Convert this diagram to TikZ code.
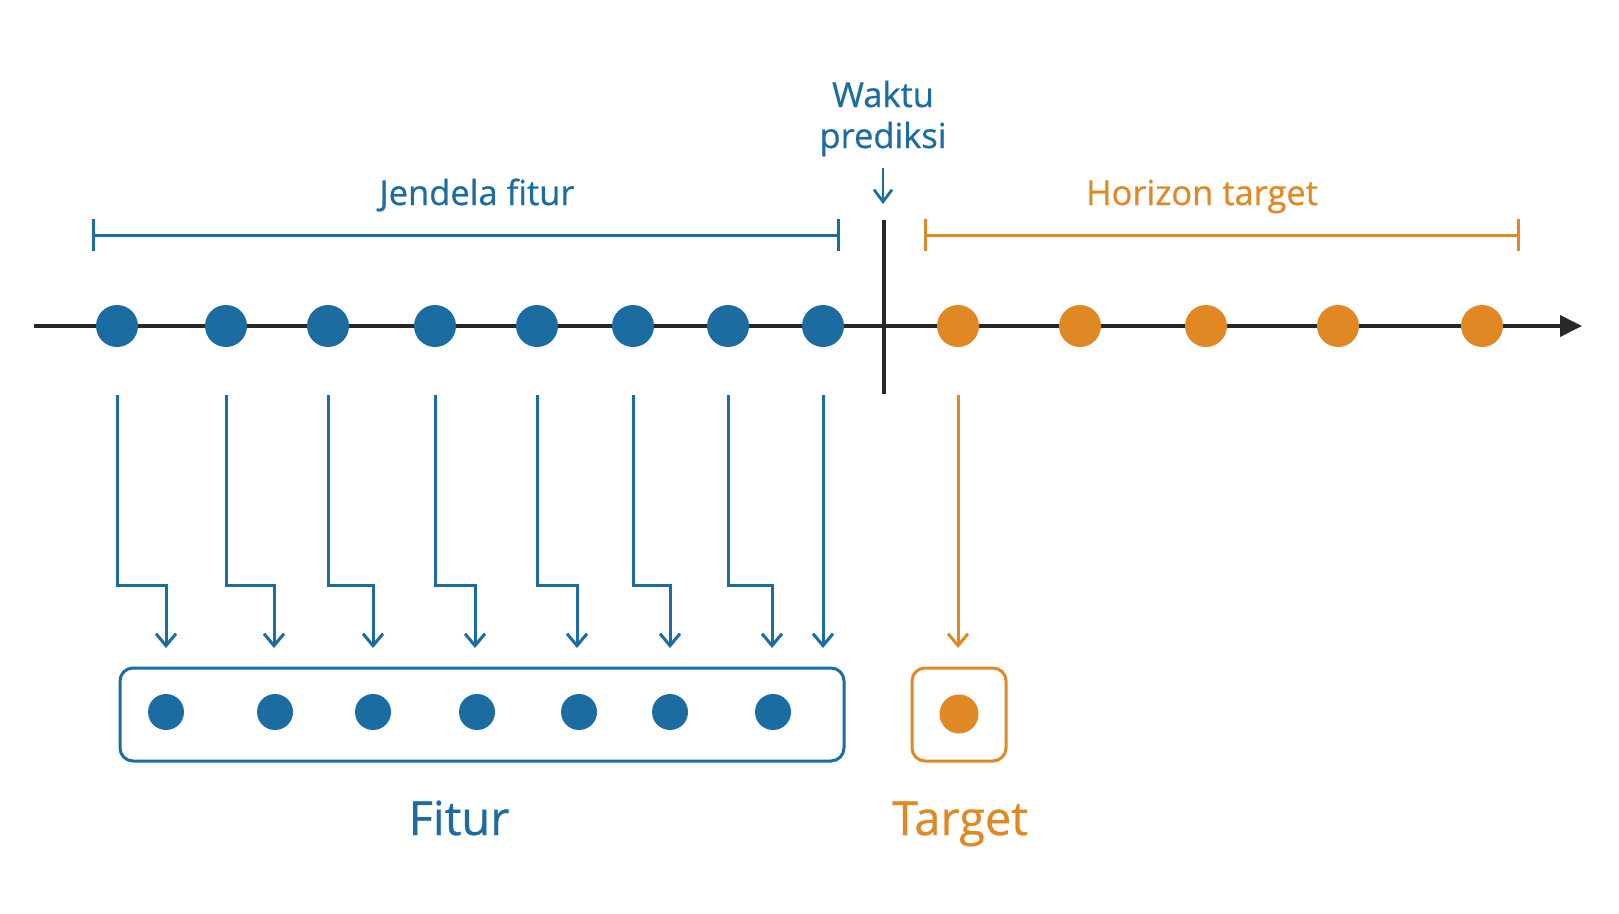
\documentclass[tikz,border=0pt]{standalone}
\usepackage{fontspec}
\setmainfont{Open Sans}
\newfontfamily\txtfont{Open Sans}[FakeBold=0.6]
\usetikzlibrary{arrows.meta,calc}
\definecolor{cblue}{RGB}{27,108,160}
\definecolor{corange}{RGB}{224,137,36}
\definecolor{caxis}{RGB}{40,40,40}
\tikzset{
  bdot/.style={circle,fill=cblue,inner sep=0pt,minimum size=42pt},
  odot/.style={circle,fill=corange,inner sep=0pt,minimum size=42pt},
  fdot/.style={circle,fill=cblue,inner sep=0pt,minimum size=36pt},
  barr/.style={draw=cblue,line width=3pt,-{Straight Barb[length=12pt,width=20pt,line width=3pt]}},
  oarr/.style={draw=corange,line width=3pt,-{Straight Barb[length=12pt,width=20pt,line width=3pt]}},
  lbl/.style={font=\txtfont\fontsize{34.5}{41}\selectfont,inner sep=0pt,anchor=base},
  big/.style={font=\txtfont\fontsize{47}{52}\selectfont,inner sep=0pt,anchor=base},
  brk/.style={line width=3pt},
}
\begin{document}
\begin{tikzpicture}[x=1pt,y=-1pt]
\useasboundingbox[fill=white] (0,0) rectangle (1619,913);

% axis
\coordinate (ax0) at (34,326);
\coordinate (ax1) at (1582,326);
\draw[caxis,line width=3.8pt,-{Triangle[length=22pt,width=21pt]}] (ax0) -- (ax1);
% divider
\coordinate (dv0) at (884,220);
\coordinate (dv1) at (884,394);
\draw[caxis,line width=3.8pt] (dv0) -- (dv1);

% brackets
\coordinate (jb0) at (93,235);
\coordinate (jb1) at (838,235);
\draw[cblue,brk] (jb0) -- (jb1);
\draw[cblue,brk] ($(jb0)+(0,-16)$) -- ($(jb0)+(0,16)$);
\draw[cblue,brk] ($(jb1)+(0,-16)$) -- ($(jb1)+(0,16)$);
\coordinate (hb0) at (925,235);
\coordinate (hb1) at (1518,235);
\draw[corange,brk] (hb0) -- (hb1);
\draw[corange,brk] ($(hb0)+(0,-16)$) -- ($(hb0)+(0,16)$);
\draw[corange,brk] ($(hb1)+(0,-16)$) -- ($(hb1)+(0,16)$);

% labels
\node[lbl,text=cblue] (jl) at (477,205) {Jendela fitur};
\node[lbl,text=corange] (hl) at (1202,205) {Horizon target};
\node[lbl,text=cblue] (wl1) at (883,107) {Waktu};
\node[lbl,text=cblue] (wl2) at (883,148) {prediksi};
\coordinate (wa0) at (883,168);
\coordinate (wa1) at (883,204);
\draw[draw=cblue,line width=2.8pt,-{Straight Barb[length=12pt,width=18pt,line width=2.8pt]}] (wa0) -- (wa1);

% dots on axis
\foreach \i/\x in {1/117,2/226,3/328,4/435,5/537,6/633,7/728,8/823}
  \node[bdot] (b\i) at (\x,326) {};
\foreach \i/\x in {1/958,2/1080,3/1206,4/1338,5/1482}
  \node[odot] (o\i) at (\x,326) {};

% feature box
\node[draw=cblue,line width=3pt,rounded corners=13pt,minimum width=724pt,minimum height=93pt,inner sep=0pt] (fbox) at (482,714.5) {};
\foreach \i/\x in {1/166,2/275,3/373,4/477,5/579,6/670,7/773}
  \node[fdot] (f\i) at (\x,712) {};
\node[draw=corange,line width=3pt,rounded corners=13pt,minimum width=94pt,minimum height=93pt,inner sep=0pt] (tbox) at (959,714.5) {};
\node[circle,fill=corange,inner sep=0pt,minimum size=39pt] (t1) at (959,714) {};

% arrows
\foreach \i/\sx/\ex in {1/117/166,2/226/274,3/328/373,4/435/475,5/537/577,6/633/670,7/728/772}{
  \coordinate (s\i) at (\sx,395);
  \coordinate (e\i) at (\ex,648);
  \draw[barr] (s\i) -- ++(0,190) -| (e\i);
}
\coordinate (s8) at (823,395);
\coordinate (e8) at (823,648);
\draw[barr] (s8) -- (e8);
\coordinate (st) at (958,395);
\coordinate (et) at (958,648);
\draw[oarr] (st) -- (et);

\node[big,text=cblue] (fl) at (459,835) {Fitur};
\node[big,text=corange] (tl) at (960,835) {Target};
\end{tikzpicture}
\end{document}
